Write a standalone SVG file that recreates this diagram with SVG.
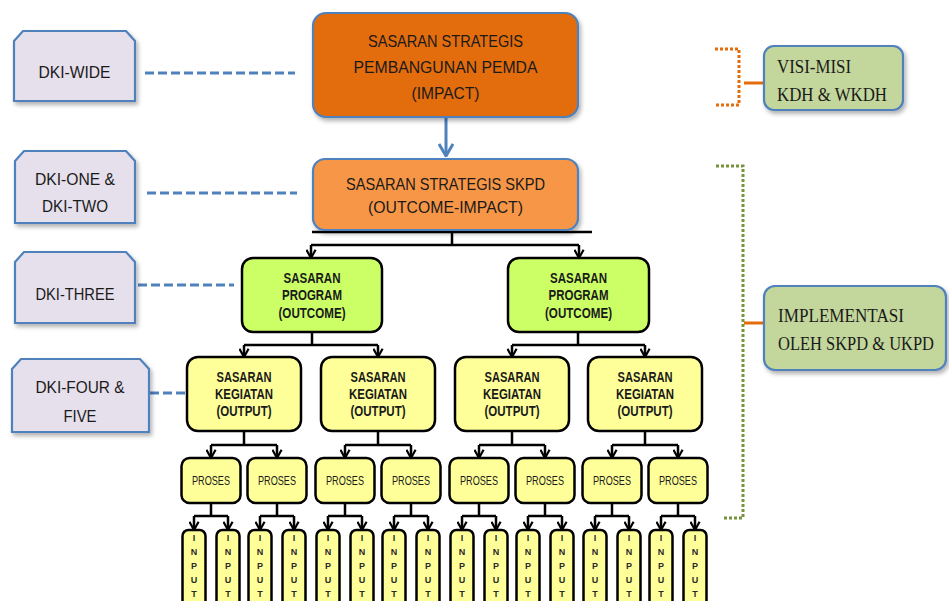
<svg xmlns="http://www.w3.org/2000/svg" width="949" height="601" viewBox="0 0 949 601">
<defs>
<filter id="sh" x="-10%" y="-10%" width="130%" height="140%">
<feDropShadow dx="2" dy="3" stdDeviation="2" flood-color="#000" flood-opacity="0.3"/>
</filter>
<marker id="v" viewBox="0 0 12 12" refX="10" refY="6" markerWidth="11" markerHeight="11" markerUnits="userSpaceOnUse" orient="auto">
<path d="M1,1 L10,6 L1,11" fill="none" stroke="#000" stroke-width="2.4"/>
</marker>
<marker id="vb" viewBox="0 0 14 16" refX="13" refY="8" markerWidth="14" markerHeight="16" markerUnits="userSpaceOnUse" orient="auto">
<path d="M1,1 L13,8 L1,15" fill="none" stroke="#4F81BD" stroke-width="3"/>
</marker>
<style>
.lav{fill:#E6E0EC;stroke:#4F81BD;stroke-width:2.2;filter:url(#sh)}
.grn{fill:#C3D69B;stroke:#4F81BD;stroke-width:2.2;filter:url(#sh)}
.t1{font-family:"Liberation Sans",Arial,sans-serif;font-size:17px;fill:#1a1a1a;text-anchor:middle}
.t2{font-family:"Liberation Serif","Times New Roman",serif;font-size:19px;fill:#1a1a1a}
.tb{font-family:"Liberation Sans",Arial,sans-serif;font-size:14.5px;font-weight:bold;fill:#1a1a1a;text-anchor:middle}
.tp{font-family:"Liberation Sans",Arial,sans-serif;font-size:13.5px;fill:#1a1a1a;text-anchor:middle}
.ti{font-family:"Liberation Sans",Arial,sans-serif;font-size:9px;font-weight:bold;fill:#2a2a2a;text-anchor:middle}
.prog{fill:#CCFF66;stroke:#000;stroke-width:2.5}
.yel{fill:#FFFF99;stroke:#000;stroke-width:2.5}
.blk{fill:none;stroke:#000;stroke-width:2.5}
.arr{fill:none;stroke:#000;stroke-width:2.5;marker-end:url(#v)}
.bd{fill:none;stroke:#4F81BD;stroke-width:3;stroke-dasharray:9 4}
.od{fill:none;stroke:#E46C0A;stroke-width:3;stroke-dasharray:3 2}
.gd{fill:none;stroke:#77933C;stroke-width:3;stroke-dasharray:3 2}
.os{fill:none;stroke:#E46C0A;stroke-width:3}
</style>
</defs>
<rect width="949" height="601" fill="#fff"/>

<g id="connectors">
<line class="bd" x1="145" y1="73" x2="295" y2="73"/>
<line class="bd" x1="147" y1="193" x2="297" y2="193"/>
<line class="bd" x1="138" y1="285" x2="234" y2="285"/>
<line class="bd" x1="150" y1="393" x2="188" y2="393"/>
<line x1="446" y1="117" x2="446" y2="156" fill="none" stroke="#4F81BD" stroke-width="3" marker-end="url(#vb)"/>
<polyline class="od" points="715,49 739,49 739,105 715,105"/>
<line class="os" x1="744" y1="83" x2="764" y2="83"/>
<polyline class="gd" points="716,166 743,166 743,518 724,518"/>
<line class="os" x1="744" y1="323" x2="764" y2="323"/>
<line class="blk" x1="312" y1="232" x2="592" y2="232" stroke-width="2"/>
<path class="blk" d="M452,232 V245 M311,245 H579"/>
<line class="arr" x1="311" y1="245" x2="311" y2="258"/>
<line class="arr" x1="579" y1="245" x2="579" y2="258"/>
<path class="blk" d="M312,332 V345 M244,345 H378 M578,332 V345 M512,345 H645"/>
<line class="arr" x1="244" y1="345" x2="244" y2="357"/>
<line class="arr" x1="378" y1="345" x2="378" y2="357"/>
<line class="arr" x1="512" y1="345" x2="512" y2="357"/>
<line class="arr" x1="645" y1="345" x2="645" y2="357"/>
<path class="blk" d="M244,431 V445 M211,445 H277 M378,431 V445 M345,445 H411 M512,431 V445 M479,445 H545 M645,431 V445 M612,445 H678"/>
<line class="arr" x1="211" y1="445" x2="211" y2="458"/>
<line class="arr" x1="277" y1="445" x2="277" y2="458"/>
<line class="arr" x1="345" y1="445" x2="345" y2="458"/>
<line class="arr" x1="411" y1="445" x2="411" y2="458"/>
<line class="arr" x1="479" y1="445" x2="479" y2="458"/>
<line class="arr" x1="545" y1="445" x2="545" y2="458"/>
<line class="arr" x1="612" y1="445" x2="612" y2="458"/>
<line class="arr" x1="678" y1="445" x2="678" y2="458"/>
<path class="blk" d="M211,503 V516 M194,516 H228 M277,503 V516 M260,516 H294 M345,503 V516 M328,516 H362 M411,503 V516 M394,516 H428 M479,503 V516 M462,516 H496 M545,503 V516 M528,516 H562 M612,503 V516 M595,516 H629 M678,503 V516 M661,516 H695"/>
<line class="arr" x1="194" y1="516" x2="194" y2="530"/>
<line class="arr" x1="228" y1="516" x2="228" y2="530"/>
<line class="arr" x1="260" y1="516" x2="260" y2="530"/>
<line class="arr" x1="294" y1="516" x2="294" y2="530"/>
<line class="arr" x1="328" y1="516" x2="328" y2="530"/>
<line class="arr" x1="362" y1="516" x2="362" y2="530"/>
<line class="arr" x1="394" y1="516" x2="394" y2="530"/>
<line class="arr" x1="428" y1="516" x2="428" y2="530"/>
<line class="arr" x1="462" y1="516" x2="462" y2="530"/>
<line class="arr" x1="496" y1="516" x2="496" y2="530"/>
<line class="arr" x1="528" y1="516" x2="528" y2="530"/>
<line class="arr" x1="562" y1="516" x2="562" y2="530"/>
<line class="arr" x1="595" y1="516" x2="595" y2="530"/>
<line class="arr" x1="629" y1="516" x2="629" y2="530"/>
<line class="arr" x1="661" y1="516" x2="661" y2="530"/>
<line class="arr" x1="695" y1="516" x2="695" y2="530"/>
</g>

<g id="dki-wide">
<path class="lav" d="M14,41 L23,31 H126 L135,41 V101 H14 Z"/>
<text class="t1" x="74.5" y="78" textLength="72" lengthAdjust="spacingAndGlyphs">DKI-WIDE</text>
</g>
<g id="dki-one-two">
<path class="lav" d="M15,161 L24,151 H126 L135,161 V223 H15 Z"/>
<text class="t1" x="75" y="185" textLength="80" lengthAdjust="spacingAndGlyphs">DKI-ONE &amp;</text>
<text class="t1" x="75" y="212" textLength="66" lengthAdjust="spacingAndGlyphs">DKI-TWO</text>
</g>
<g id="dki-three">
<path class="lav" d="M15,262 L24,252 H126 L135,262 V323 H15 Z"/>
<text class="t1" x="75" y="300" textLength="79" lengthAdjust="spacingAndGlyphs">DKI-THREE</text>
</g>
<g id="dki-four-five">
<path class="lav" d="M12,369 L21,359 H140 L149,369 V432 H12 Z"/>
<text class="t1" x="80" y="393" textLength="89" lengthAdjust="spacingAndGlyphs">DKI-FOUR &amp;</text>
<text class="t1" x="80" y="422" textLength="33" lengthAdjust="spacingAndGlyphs">FIVE</text>
</g>

<g id="sasaran-pemda">
<rect x="313" y="13" width="265" height="104" rx="13" fill="#E36C09" stroke="#4F81BD" stroke-width="2.2" filter="url(#sh)"/>
<text class="t1" x="445.5" y="47" textLength="155" lengthAdjust="spacingAndGlyphs">SASARAN STRATEGIS</text>
<text class="t1" x="445.5" y="73" textLength="184" lengthAdjust="spacingAndGlyphs">PEMBANGUNAN PEMDA</text>
<text class="t1" x="445.5" y="99" textLength="68" lengthAdjust="spacingAndGlyphs">(IMPACT)</text>
</g>
<g id="sasaran-skpd">
<rect x="313" y="159" width="265" height="71" rx="12" fill="#F79646" stroke="#4F81BD" stroke-width="2.2" filter="url(#sh)"/>
<text class="t1" x="445.5" y="190" textLength="199" lengthAdjust="spacingAndGlyphs">SASARAN STRATEGIS SKPD</text>
<text class="t1" x="445.5" y="213" textLength="155" lengthAdjust="spacingAndGlyphs">(OUTCOME-IMPACT)</text>
</g>

<g id="visi-misi">
<rect x="764" y="46" width="139" height="64" rx="10" class="grn"/>
<text class="t2" x="777" y="73" textLength="74" lengthAdjust="spacingAndGlyphs">VISI-MISI</text>
<text class="t2" x="777" y="101" textLength="110" lengthAdjust="spacingAndGlyphs">KDH &amp; WKDH</text>
</g>
<g id="implementasi">
<rect x="764" y="286" width="182" height="84" rx="11" class="grn"/>
<text class="t2" x="778" y="322" textLength="126" lengthAdjust="spacingAndGlyphs">IMPLEMENTASI</text>
<text class="t2" x="778" y="350" font-size="16.5" textLength="156" lengthAdjust="spacingAndGlyphs">OLEH SKPD &amp; UKPD</text>
</g>

<g id="program-1">
<rect class="prog" x="242" y="258" width="140" height="74" rx="11"/>
<text class="tb" x="312" y="283" textLength="57" lengthAdjust="spacingAndGlyphs">SASARAN</text>
<text class="tb" x="312" y="300" textLength="60" lengthAdjust="spacingAndGlyphs">PROGRAM</text>
<text class="tb" x="312" y="318" textLength="67" lengthAdjust="spacingAndGlyphs">(OUTCOME)</text>
</g>
<g id="program-2">
<rect class="prog" x="508" y="258" width="141" height="74" rx="11"/>
<text class="tb" x="578.5" y="283" textLength="57" lengthAdjust="spacingAndGlyphs">SASARAN</text>
<text class="tb" x="578.5" y="300" textLength="60" lengthAdjust="spacingAndGlyphs">PROGRAM</text>
<text class="tb" x="578.5" y="318" textLength="67" lengthAdjust="spacingAndGlyphs">(OUTCOME)</text>
</g>

<g id="kegiatan-1">
<rect class="yel" x="187" y="357" width="114" height="74" rx="11"/>
<text class="tb" x="244" y="382" textLength="55" lengthAdjust="spacingAndGlyphs">SASARAN</text>
<text class="tb" x="244" y="399" textLength="58" lengthAdjust="spacingAndGlyphs">KEGIATAN</text>
<text class="tb" x="244" y="416" textLength="55" lengthAdjust="spacingAndGlyphs">(OUTPUT)</text>
</g>
<g id="kegiatan-2">
<rect class="yel" x="321" y="357" width="114" height="74" rx="11"/>
<text class="tb" x="378" y="382" textLength="55" lengthAdjust="spacingAndGlyphs">SASARAN</text>
<text class="tb" x="378" y="399" textLength="58" lengthAdjust="spacingAndGlyphs">KEGIATAN</text>
<text class="tb" x="378" y="416" textLength="55" lengthAdjust="spacingAndGlyphs">(OUTPUT)</text>
</g>
<g id="kegiatan-3">
<rect class="yel" x="455" y="357" width="114" height="74" rx="11"/>
<text class="tb" x="512" y="382" textLength="55" lengthAdjust="spacingAndGlyphs">SASARAN</text>
<text class="tb" x="512" y="399" textLength="58" lengthAdjust="spacingAndGlyphs">KEGIATAN</text>
<text class="tb" x="512" y="416" textLength="55" lengthAdjust="spacingAndGlyphs">(OUTPUT)</text>
</g>
<g id="kegiatan-4">
<rect class="yel" x="588" y="357" width="114" height="74" rx="11"/>
<text class="tb" x="645" y="382" textLength="55" lengthAdjust="spacingAndGlyphs">SASARAN</text>
<text class="tb" x="645" y="399" textLength="58" lengthAdjust="spacingAndGlyphs">KEGIATAN</text>
<text class="tb" x="645" y="416" textLength="55" lengthAdjust="spacingAndGlyphs">(OUTPUT)</text>
</g>

<g id="proses-1"><rect class="yel" x="181.5" y="458" width="59" height="45" rx="8"/><text class="tp" x="211" y="485" textLength="38" lengthAdjust="spacingAndGlyphs">PROSES</text></g>
<g id="proses-2"><rect class="yel" x="247.5" y="458" width="59" height="45" rx="8"/><text class="tp" x="277" y="485" textLength="38" lengthAdjust="spacingAndGlyphs">PROSES</text></g>
<g id="proses-3"><rect class="yel" x="315.5" y="458" width="59" height="45" rx="8"/><text class="tp" x="345" y="485" textLength="38" lengthAdjust="spacingAndGlyphs">PROSES</text></g>
<g id="proses-4"><rect class="yel" x="381.5" y="458" width="59" height="45" rx="8"/><text class="tp" x="411" y="485" textLength="38" lengthAdjust="spacingAndGlyphs">PROSES</text></g>
<g id="proses-5"><rect class="yel" x="449.5" y="458" width="59" height="45" rx="8"/><text class="tp" x="479" y="485" textLength="38" lengthAdjust="spacingAndGlyphs">PROSES</text></g>
<g id="proses-6"><rect class="yel" x="515.5" y="458" width="59" height="45" rx="8"/><text class="tp" x="545" y="485" textLength="38" lengthAdjust="spacingAndGlyphs">PROSES</text></g>
<g id="proses-7"><rect class="yel" x="582.5" y="458" width="59" height="45" rx="8"/><text class="tp" x="612" y="485" textLength="38" lengthAdjust="spacingAndGlyphs">PROSES</text></g>
<g id="proses-8"><rect class="yel" x="648.5" y="458" width="59" height="45" rx="8"/><text class="tp" x="678" y="485" textLength="38" lengthAdjust="spacingAndGlyphs">PROSES</text></g>

<g id="input-1"><rect class="yel" x="182.5" y="530" width="23" height="85" rx="6"/><text class="ti"><tspan x="194" y="541">I</tspan><tspan x="194" y="555">N</tspan><tspan x="194" y="569">P</tspan><tspan x="194" y="583">U</tspan><tspan x="194" y="597">T</tspan></text></g>
<g id="input-2"><rect class="yel" x="216.5" y="530" width="23" height="85" rx="6"/><text class="ti"><tspan x="228" y="541">I</tspan><tspan x="228" y="555">N</tspan><tspan x="228" y="569">P</tspan><tspan x="228" y="583">U</tspan><tspan x="228" y="597">T</tspan></text></g>
<g id="input-3"><rect class="yel" x="248.5" y="530" width="23" height="85" rx="6"/><text class="ti"><tspan x="260" y="541">I</tspan><tspan x="260" y="555">N</tspan><tspan x="260" y="569">P</tspan><tspan x="260" y="583">U</tspan><tspan x="260" y="597">T</tspan></text></g>
<g id="input-4"><rect class="yel" x="282.5" y="530" width="23" height="85" rx="6"/><text class="ti"><tspan x="294" y="541">I</tspan><tspan x="294" y="555">N</tspan><tspan x="294" y="569">P</tspan><tspan x="294" y="583">U</tspan><tspan x="294" y="597">T</tspan></text></g>
<g id="input-5"><rect class="yel" x="316.5" y="530" width="23" height="85" rx="6"/><text class="ti"><tspan x="328" y="541">I</tspan><tspan x="328" y="555">N</tspan><tspan x="328" y="569">P</tspan><tspan x="328" y="583">U</tspan><tspan x="328" y="597">T</tspan></text></g>
<g id="input-6"><rect class="yel" x="350.5" y="530" width="23" height="85" rx="6"/><text class="ti"><tspan x="362" y="541">I</tspan><tspan x="362" y="555">N</tspan><tspan x="362" y="569">P</tspan><tspan x="362" y="583">U</tspan><tspan x="362" y="597">T</tspan></text></g>
<g id="input-7"><rect class="yel" x="382.5" y="530" width="23" height="85" rx="6"/><text class="ti"><tspan x="394" y="541">I</tspan><tspan x="394" y="555">N</tspan><tspan x="394" y="569">P</tspan><tspan x="394" y="583">U</tspan><tspan x="394" y="597">T</tspan></text></g>
<g id="input-8"><rect class="yel" x="416.5" y="530" width="23" height="85" rx="6"/><text class="ti"><tspan x="428" y="541">I</tspan><tspan x="428" y="555">N</tspan><tspan x="428" y="569">P</tspan><tspan x="428" y="583">U</tspan><tspan x="428" y="597">T</tspan></text></g>
<g id="input-9"><rect class="yel" x="450.5" y="530" width="23" height="85" rx="6"/><text class="ti"><tspan x="462" y="541">I</tspan><tspan x="462" y="555">N</tspan><tspan x="462" y="569">P</tspan><tspan x="462" y="583">U</tspan><tspan x="462" y="597">T</tspan></text></g>
<g id="input-10"><rect class="yel" x="484.5" y="530" width="23" height="85" rx="6"/><text class="ti"><tspan x="496" y="541">I</tspan><tspan x="496" y="555">N</tspan><tspan x="496" y="569">P</tspan><tspan x="496" y="583">U</tspan><tspan x="496" y="597">T</tspan></text></g>
<g id="input-11"><rect class="yel" x="516.5" y="530" width="23" height="85" rx="6"/><text class="ti"><tspan x="528" y="541">I</tspan><tspan x="528" y="555">N</tspan><tspan x="528" y="569">P</tspan><tspan x="528" y="583">U</tspan><tspan x="528" y="597">T</tspan></text></g>
<g id="input-12"><rect class="yel" x="550.5" y="530" width="23" height="85" rx="6"/><text class="ti"><tspan x="562" y="541">I</tspan><tspan x="562" y="555">N</tspan><tspan x="562" y="569">P</tspan><tspan x="562" y="583">U</tspan><tspan x="562" y="597">T</tspan></text></g>
<g id="input-13"><rect class="yel" x="583.5" y="530" width="23" height="85" rx="6"/><text class="ti"><tspan x="595" y="541">I</tspan><tspan x="595" y="555">N</tspan><tspan x="595" y="569">P</tspan><tspan x="595" y="583">U</tspan><tspan x="595" y="597">T</tspan></text></g>
<g id="input-14"><rect class="yel" x="617.5" y="530" width="23" height="85" rx="6"/><text class="ti"><tspan x="629" y="541">I</tspan><tspan x="629" y="555">N</tspan><tspan x="629" y="569">P</tspan><tspan x="629" y="583">U</tspan><tspan x="629" y="597">T</tspan></text></g>
<g id="input-15"><rect class="yel" x="649.5" y="530" width="23" height="85" rx="6"/><text class="ti"><tspan x="661" y="541">I</tspan><tspan x="661" y="555">N</tspan><tspan x="661" y="569">P</tspan><tspan x="661" y="583">U</tspan><tspan x="661" y="597">T</tspan></text></g>
<g id="input-16"><rect class="yel" x="683.5" y="530" width="23" height="85" rx="6"/><text class="ti"><tspan x="695" y="541">I</tspan><tspan x="695" y="555">N</tspan><tspan x="695" y="569">P</tspan><tspan x="695" y="583">U</tspan><tspan x="695" y="597">T</tspan></text></g>
</svg>
